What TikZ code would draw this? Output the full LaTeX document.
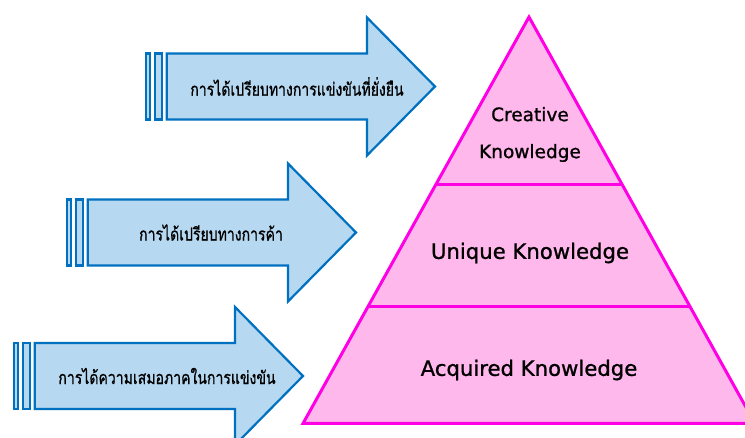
\documentclass[tikz,border=0pt]{standalone}
\usepackage{fontspec}
\setmainfont[FakeBold=1]{DejaVu Sans}
\newfontfamily\thaifont[Script=Thai,FakeBold=0.8,FakeStretch=0.78]{Loma}
\usetikzlibrary{calc}
\definecolor{arrowfill}{RGB}{182,216,240}
\definecolor{arrowline}{RGB}{0,112,192}
\definecolor{pyrfill}{RGB}{255,184,236}
\definecolor{pyrline}{RGB}{255,0,228}
\newcommand*{\TierA}{.413}
\newcommand*{\TierB}{.713}
\tikzset{
    arrowpart/.style={
        draw=arrowline,fill=arrowfill,
        line width=2.2pt,
        },
    gaintext/.style={
        text=black,inner sep=0pt,
        font=\thaifont\fontsize{18}{21}\selectfont,
        },
    pyramid/.style={
        draw=pyrline,fill=pyrfill,
        line width=3pt,line join=miter,
        },
    tierline/.style={
        draw=pyrline,line width=3pt,
        },
    tiertext/.style={
        text=black,align=center,inner sep=0pt,
        font=\fontsize{21.2}{26}\selectfont,
        }
    }
\begin{document}
\begin{tikzpicture}[x=1pt,y=-1pt]
    \useasboundingbox (0,0) rectangle (745,438);
    % arrows
    \foreach \x/\y/\tx/\name/\txt in {
        145/86.5/297/gaina/การได้เปรียบทางการแข่งขันที่ยั่งยืน,
        66/232.5/211/gainb/การได้เปรียบทางการค้า,
        13/376/167/gainc/การได้ความเสมอภาคในการแข่งขัน}{
        \draw[arrowpart] (\x+1.1,\y-33) rectangle (\x+4.6,\y+33);
        \draw[arrowpart] (\x+10.1,\y-33) rectangle (\x+16.9,\y+33);
        \draw[arrowpart] (\x+21.8,\y-33) -- (\x+222,\y-33) -- (\x+222,\y-69)
            -- (\x+290,\y) -- (\x+222,\y+69) -- (\x+222,\y+33) -- (\x+21.8,\y+33) -- cycle;
        \node[gaintext] (\name) at (\tx,\y) {\txt};
    }
    % pyramid
    \coordinate (apex) at (529,17);
    \coordinate (bl) at (303,423.5);
    \coordinate (br) at (755,423.5);
    \draw[pyramid] (apex) -- (bl) -- (br) -- cycle;
    \draw[tierline] ($(apex)!\TierA!(bl)$) -- ($(apex)!\TierA!(br)$);
    \draw[tierline] ($(apex)!\TierB!(bl)$) -- ($(apex)!\TierB!(br)$);
    \node[tiertext,font=\fontsize{18.5}{37}\selectfont] (creative) at (530,134.5) {Creative\\Knowledge};
    \node[tiertext] (unique) at (530,253) {Unique Knowledge};
    \node[tiertext] (acquired) at (529,370) {Acquired Knowledge};
\end{tikzpicture}
\end{document}
